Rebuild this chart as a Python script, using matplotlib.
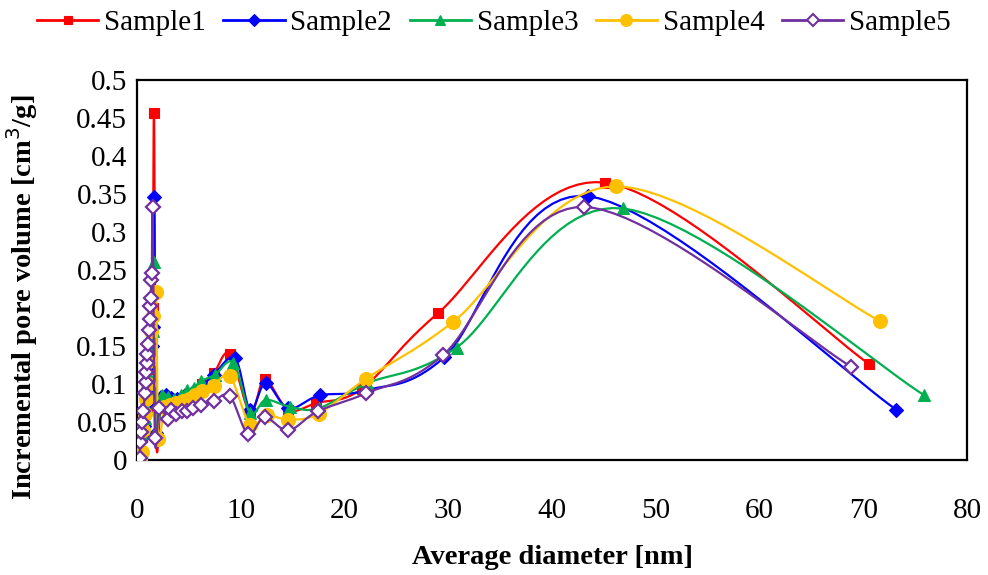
import numpy as np
import matplotlib
matplotlib.use("Agg")
import matplotlib.pyplot as plt
from matplotlib.lines import Line2D

# ---------------- data ----------------
series_names = ["Sample1", "Sample2", "Sample3", "Sample4", "Sample5"]

x1 = [0.35, 0.5, 0.65, 0.8, 0.95, 1.1, 1.25, 1.4, 1.52, 1.64, 1.85, 2.3, 2.8, 3.3, 3.9, 4.6, 5.4, 6.3, 7.4, 8.96, 10.9, 12.3, 14.6, 17.3, 21.7, 29.0, 45.1, 70.6]
y1 = [0.005, 0.03, 0.045, 0.06, 0.07, 0.09, 0.12, 0.16, 0.2, 0.457, 0.03, 0.08, 0.082, 0.08, 0.078, 0.083, 0.087, 0.1, 0.114, 0.140, 0.062, 0.106, 0.066, 0.075, 0.094, 0.193, 0.365, 0.126]

x2 = [0.35, 0.5, 0.65, 0.8, 0.95, 1.1, 1.25, 1.4, 1.52, 1.64, 1.85, 2.3, 2.8, 3.3, 3.9, 4.6, 5.4, 6.3, 7.4, 9.45, 10.9, 12.4, 14.6, 17.6, 22.2, 29.6, 43.5, 73.2]
y2 = [0.01, 0.03, 0.045, 0.06, 0.075, 0.095, 0.125, 0.15, 0.175, 0.346, 0.035, 0.083, 0.085, 0.082, 0.08, 0.085, 0.09, 0.098, 0.112, 0.134, 0.066, 0.101, 0.068, 0.085, 0.092, 0.135, 0.347, 0.066]

x3 = [0.3, 0.45, 0.6, 0.75, 0.9, 1.05, 1.2, 1.35, 1.5, 1.64, 1.85, 2.4, 3.0, 3.6, 4.2, 4.8, 5.5, 6.2, 7.5, 9.3, 10.9, 12.4, 14.75, 17.5, 22.2, 30.8, 46.8, 75.9]
y3 = [0.0, 0.035, 0.045, 0.055, 0.07, 0.09, 0.11, 0.14, 0.17, 0.261, 0.04, 0.085, 0.083, 0.08, 0.085, 0.092, 0.095, 0.104, 0.112, 0.128, 0.062, 0.079, 0.070, 0.068, 0.101, 0.148, 0.331, 0.085]

x4 = [0.3, 0.45, 0.6, 0.75, 0.9, 1.05, 1.2, 1.35, 1.5, 1.83, 2.06, 2.6, 3.2, 3.8, 4.4, 5.0, 5.6, 6.3, 7.4, 8.96, 10.9, 12.5, 14.6, 17.5, 22.1, 30.5, 46.2, 71.6]
y4 = [0.0, 0.01, 0.04, 0.06, 0.08, 0.1, 0.13, 0.17, 0.19, 0.221, 0.028, 0.07, 0.072, 0.075, 0.078, 0.08, 0.085, 0.091, 0.098, 0.110, 0.046, 0.059, 0.053, 0.061, 0.107, 0.182, 0.360, 0.183]

x5 = [0.25, 0.33, 0.42, 0.5, 0.61, 0.77, 0.85, 0.9, 0.95, 1.0, 1.08, 1.16, 1.22, 1.28, 1.33, 1.38, 1.43, 1.51, 1.73, 2.15, 3.0, 3.3, 3.8, 4.3, 4.8, 5.4, 6.2, 7.4, 8.96, 10.7, 12.3, 14.6, 17.4, 22.1, 29.5, 43.1, 68.8]
y5 = [0.002, 0.024, 0.037, 0.050, 0.064, 0.088, 0.103, 0.116, 0.127, 0.140, 0.153, 0.171, 0.186, 0.202, 0.213, 0.237, 0.246, 0.333, 0.029, 0.068, 0.054, 0.066, 0.060, 0.064, 0.065, 0.068, 0.072, 0.078, 0.084, 0.034, 0.056, 0.039, 0.064, 0.088, 0.138, 0.333, 0.123]

x_ticks = [0, 10, 20, 30, 40, 50, 60, 70, 80]
y_ticks = [0, 0.05, 0.1, 0.15, 0.2, 0.25, 0.3, 0.35, 0.4, 0.45, 0.5]
y_tick_labels = ["0", "0.05", "0.1", "0.15", "0.2", "0.25", "0.3", "0.35", "0.4", "0.45", "0.5"]

# ---------------- style ----------------
colors = ["#FF0000", "#0000FF", "#00B050", "#FFC000", "#7030A0"]
markers = ["s", "D", "^", "o", "D"]
msizes = [7.5, 7.5, 9.0, 10.0, 7.5]
mfaces = ["#FF0000", "#0000FF", "#00B050", "#FFC000", "white"]

plt.rcParams["font.family"] = ["Liberation Serif", "DejaVu Serif"]

W, H = 988, 575
fig = plt.figure(figsize=(W / 100, H / 100), dpi=100)
L, R, T, B = 137, 967, 80, 460
ax = fig.add_axes([L / W, 1 - B / H, (R - L) / W, (B - T) / H])
ax.set_xlim(0, 80)
ax.set_ylim(0, 0.5)

sx = (R - L) / 80.0
sy = (B - T) / 0.5


def smooth(x, y, n=24):
    P = np.column_stack([np.asarray(x, float) * sx, np.asarray(y, float) * sy])
    out = [P[0:1]]
    m = len(P)
    t = np.linspace(0, 1, n)[1:, None]
    for i in range(m - 1):
        p0 = P[i - 1] if i > 0 else P[i]
        p1 = P[i]
        p2 = P[i + 1]
        p3 = P[i + 2] if i + 2 < m else P[i + 1]
        c1 = p1 + (p2 - p0) / 6.0
        c2 = p2 - (p3 - p1) / 6.0
        seg = ((1 - t) ** 3) * p1 + 3 * ((1 - t) ** 2) * t * c1 + 3 * (1 - t) * t ** 2 * c2 + t ** 3 * p2
        out.append(seg)
    Q = np.vstack(out)
    return Q[:, 0] / sx, Q[:, 1] / sy


data = [(x1, y1), (x2, y2), (x3, y3), (x4, y4), (x5, y5)]
handles = []
for k, (xs, ys) in enumerate(data):
    sxv, syv = smooth(xs, ys)
    ax.plot(sxv, syv, color=colors[k], lw=1.6, zorder=2 + k * 2, solid_capstyle="round")
    ax.plot(xs, ys, linestyle="none", marker=markers[k], ms=msizes[k],
            markerfacecolor=mfaces[k], markeredgecolor=colors[k],
            markeredgewidth=1.6 if k == 4 else 0.8, zorder=3 + k * 2)
    handles.append(Line2D([0], [0], color=colors[k], lw=2.0, marker=markers[k],
                          ms=msizes[k] * 0.85, markerfacecolor=mfaces[k],
                          markeredgecolor=colors[k], markeredgewidth=1.5 if k == 4 else 0.8))

ax.set_xticks(x_ticks)
ax.set_xticklabels([str(v) for v in x_ticks])
ax.set_yticks(y_ticks)
ax.set_yticklabels(y_tick_labels)
ax.tick_params(axis="both", length=0, labelsize=21)
ax.tick_params(axis="x", pad=27)
ax.tick_params(axis="y", pad=7)
for s in ax.spines.values():
    s.set_linewidth(1.6)
    s.set_color("black")

ax.set_xlabel("Average diameter [nm]", fontsize=20.5, fontweight="bold")
ax.xaxis.set_label_coords((552 - L) / (R - L), (B - 557) / (B - T))
ax.xaxis.label.set_va("center")
ax.set_ylabel("Incremental pore volume [cm$^3$/g]", fontsize=20.5, fontweight="bold")
ax.yaxis.set_label_coords((22 - L) / (R - L), (B - 297) / (B - T))
ax.yaxis.label.set_va("center")

fig.legend(handles, series_names, loc="center", bbox_to_anchor=(0.5, 1 - 23 / H),
           ncol=5, frameon=False, fontsize=21, handlelength=2.1, handletextpad=0.2,
           columnspacing=0.6, borderaxespad=0)

fig.savefig("out.png", dpi=100)
